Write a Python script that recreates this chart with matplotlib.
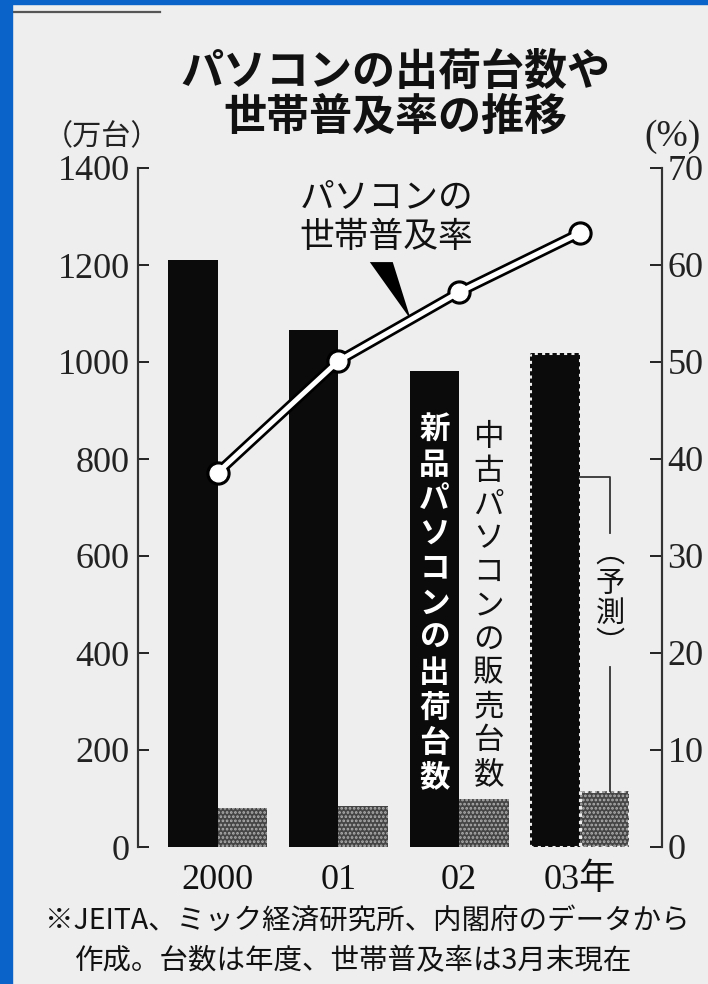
import numpy as np
import matplotlib
matplotlib.use("Agg")
import matplotlib.pyplot as plt
from matplotlib.patches import Rectangle, Polygon
from matplotlib.lines import Line2D

JP = ["Noto Sans CJK JP", "DejaVu Sans"]
SERIF = ["Liberation Serif", "Noto Sans CJK JP"]
plt.rcParams["font.family"] = JP
plt.rcParams["hatch.linewidth"] = 1.3

# データ
years = ["2000", "01", "02", "03年"]
shipments = [1210, 1067, 982, 1018]        # 新品パソコンの出荷台数 (万台)
used_sales = [80, 85, 100, 115]            # 中古パソコンの販売台数 (万台)
household_rate = [38.6, 50.1, 57.2, 63.3]  # 世帯普及率 (%)
forecast = 3                               # 03年は予測値

W, H = 708, 984
fig = plt.figure(figsize=(W / 100, H / 100), dpi=100)
fig.patch.set_facecolor("#eeeeee")

ax = fig.add_axes([138 / W, 1 - 847 / H, (662 - 138) / W, (847 - 168) / H])
ax.set_facecolor("none")
ax2 = ax.twinx()

x = np.arange(len(years))
bw = 0.41

# 棒グラフ (左軸)
ax.bar(x - bw / 2, shipments, bw, color="#0b0b0b", lw=0, zorder=2)
ax.bar(x + bw / 2, used_sales, bw, facecolor="#454545", edgecolor="#b0b0b0",
       hatch="....", lw=0, zorder=2)
# 予測の棒は点線のふち
ax.bar(x[forecast] - bw / 2, shipments[forecast], bw, fill=False,
       edgecolor="#eeeeee", lw=2.2, ls=(0, (1, 1.4)), zorder=3)
ax.bar(x[forecast] + bw / 2, used_sales[forecast], bw, fill=False,
       edgecolor="#eeeeee", lw=2.2, ls=(0, (1, 1.4)), zorder=3)

ax.set_xlim(-0.66, 3.68)
ax.set_ylim(0, 1400)
yt = list(range(0, 1401, 200))
ax.set_yticks(yt, [str(v) for v in yt], family=SERIF, fontsize=26)
ax.set_xticks(x, years, family=SERIF, fontsize=26)
ax.tick_params(axis="x", length=0, pad=12, colors="#111")
ax.tick_params(axis="y", direction="in", length=8, width=1.4, pad=6,
               colors="#222")

# 折れ線 (右軸)
ax2.set_ylim(0, 70)
rt = list(range(0, 71, 10))
ax2.set_yticks(rt, [str(v) for v in rt], family=SERIF, fontsize=26)
ax2.tick_params(axis="y", direction="in", length=9, width=1.4, pad=4,
                colors="#222")

for a in (ax, ax2):
    a.spines["top"].set_visible(False)
    a.spines["bottom"].set_visible(False)
    a.spines["left"].set_linewidth(1.5)
    a.spines["right"].set_linewidth(1.5)
    a.spines["left"].set_color("#333")
    a.spines["right"].set_color("#333")

ax2.plot(x, household_rate, color="black", lw=7.5, marker="o", ms=16.5,
         mfc="black", mec="black", solid_capstyle="round", zorder=3)
ax2.plot(x, household_rate, color="white", lw=3.6, marker="o", ms=12,
         mfc="white", mec="white", solid_capstyle="round", zorder=4)

# 吹き出しの三角
tip_x = 1.60
tip_y = np.interp(tip_x, x, household_rate)
pointer = Polygon([(1.26, 60.3), (1.45, 60.3), (tip_x, tip_y)],
                  closed=True, fc="black", ec="none", zorder=2)
ax2.add_patch(pointer)
ax2.text(0.68, 64.9, "パソコンの\n世帯普及率", ha="left", va="center",
         fontsize=25, linespacing=1.2, color="#111")

# 棒の縦書きラベル
ax.text(x[2] - bw / 2, 502, "\n".join("新品パソコンの出荷台数"), ha="center",
        va="center", fontsize=22, linespacing=1.11, color="white",
        weight="bold", zorder=4)
ax.text(x[2] + bw / 2 + 0.04, 497, "\n".join("中古パソコンの販売台数"),
        ha="center", va="center", fontsize=22, linespacing=1.11,
        color="#111", zorder=4)

# (予測) の括り線
bx = x[forecast] + 0.25
ax.plot([x[forecast], bx, bx], [763, 763, 647], color="#333", lw=1.3, zorder=3)
ax.plot([bx, bx], [371, used_sales[forecast]], color="#333", lw=1.3, zorder=3)
ax.text(bx, 512, "︵\n予\n測\n︶", ha="center", va="center", fontsize=21,
        linespacing=1.0, color="#111", zorder=4)

# 見出し・単位・注記
fig.text(395 / W, 1 - 72 / H, "パソコンの出荷台数や", ha="center", va="center",
         fontsize=31, weight="bold", color="#111")
fig.text(395 / W, 1 - 117 / H, "世帯普及率の推移", ha="center", va="center",
         fontsize=31, weight="bold", color="#111")
fig.text(102 / W, 1 - 137 / H, "（万台）", ha="center", va="center",
         fontsize=21, color="#222")
fig.text(672 / W, 1 - 137 / H, "(%)", ha="center", va="center",
         fontsize=27, family=SERIF, color="#222")
fig.text(45 / W, 1 - 921 / H, "※JEITA、ミック経済研究所、内閣府のデータから",
         ha="left", va="center", fontsize=20.5, color="#111")
fig.text(75 / W, 1 - 961 / H, "作成。台数は年度、世帯普及率は3月末現在",
         ha="left", va="center", fontsize=20.5, color="#111")

# 枠
fig.add_artist(Line2D([12 / W, 160 / W], [1 - 12 / H] * 2, color="#555",
                      lw=1.6))
fig.add_artist(Rectangle((0, 0), 12 / W, 1, transform=fig.transFigure,
                         color="#0a63c8", zorder=10))
fig.add_artist(Rectangle((0, 1 - 4 / H), 1, 4 / H, transform=fig.transFigure,
                         color="#0a63c8", zorder=10))

fig.savefig("out.png", dpi=100, facecolor=fig.get_facecolor())
